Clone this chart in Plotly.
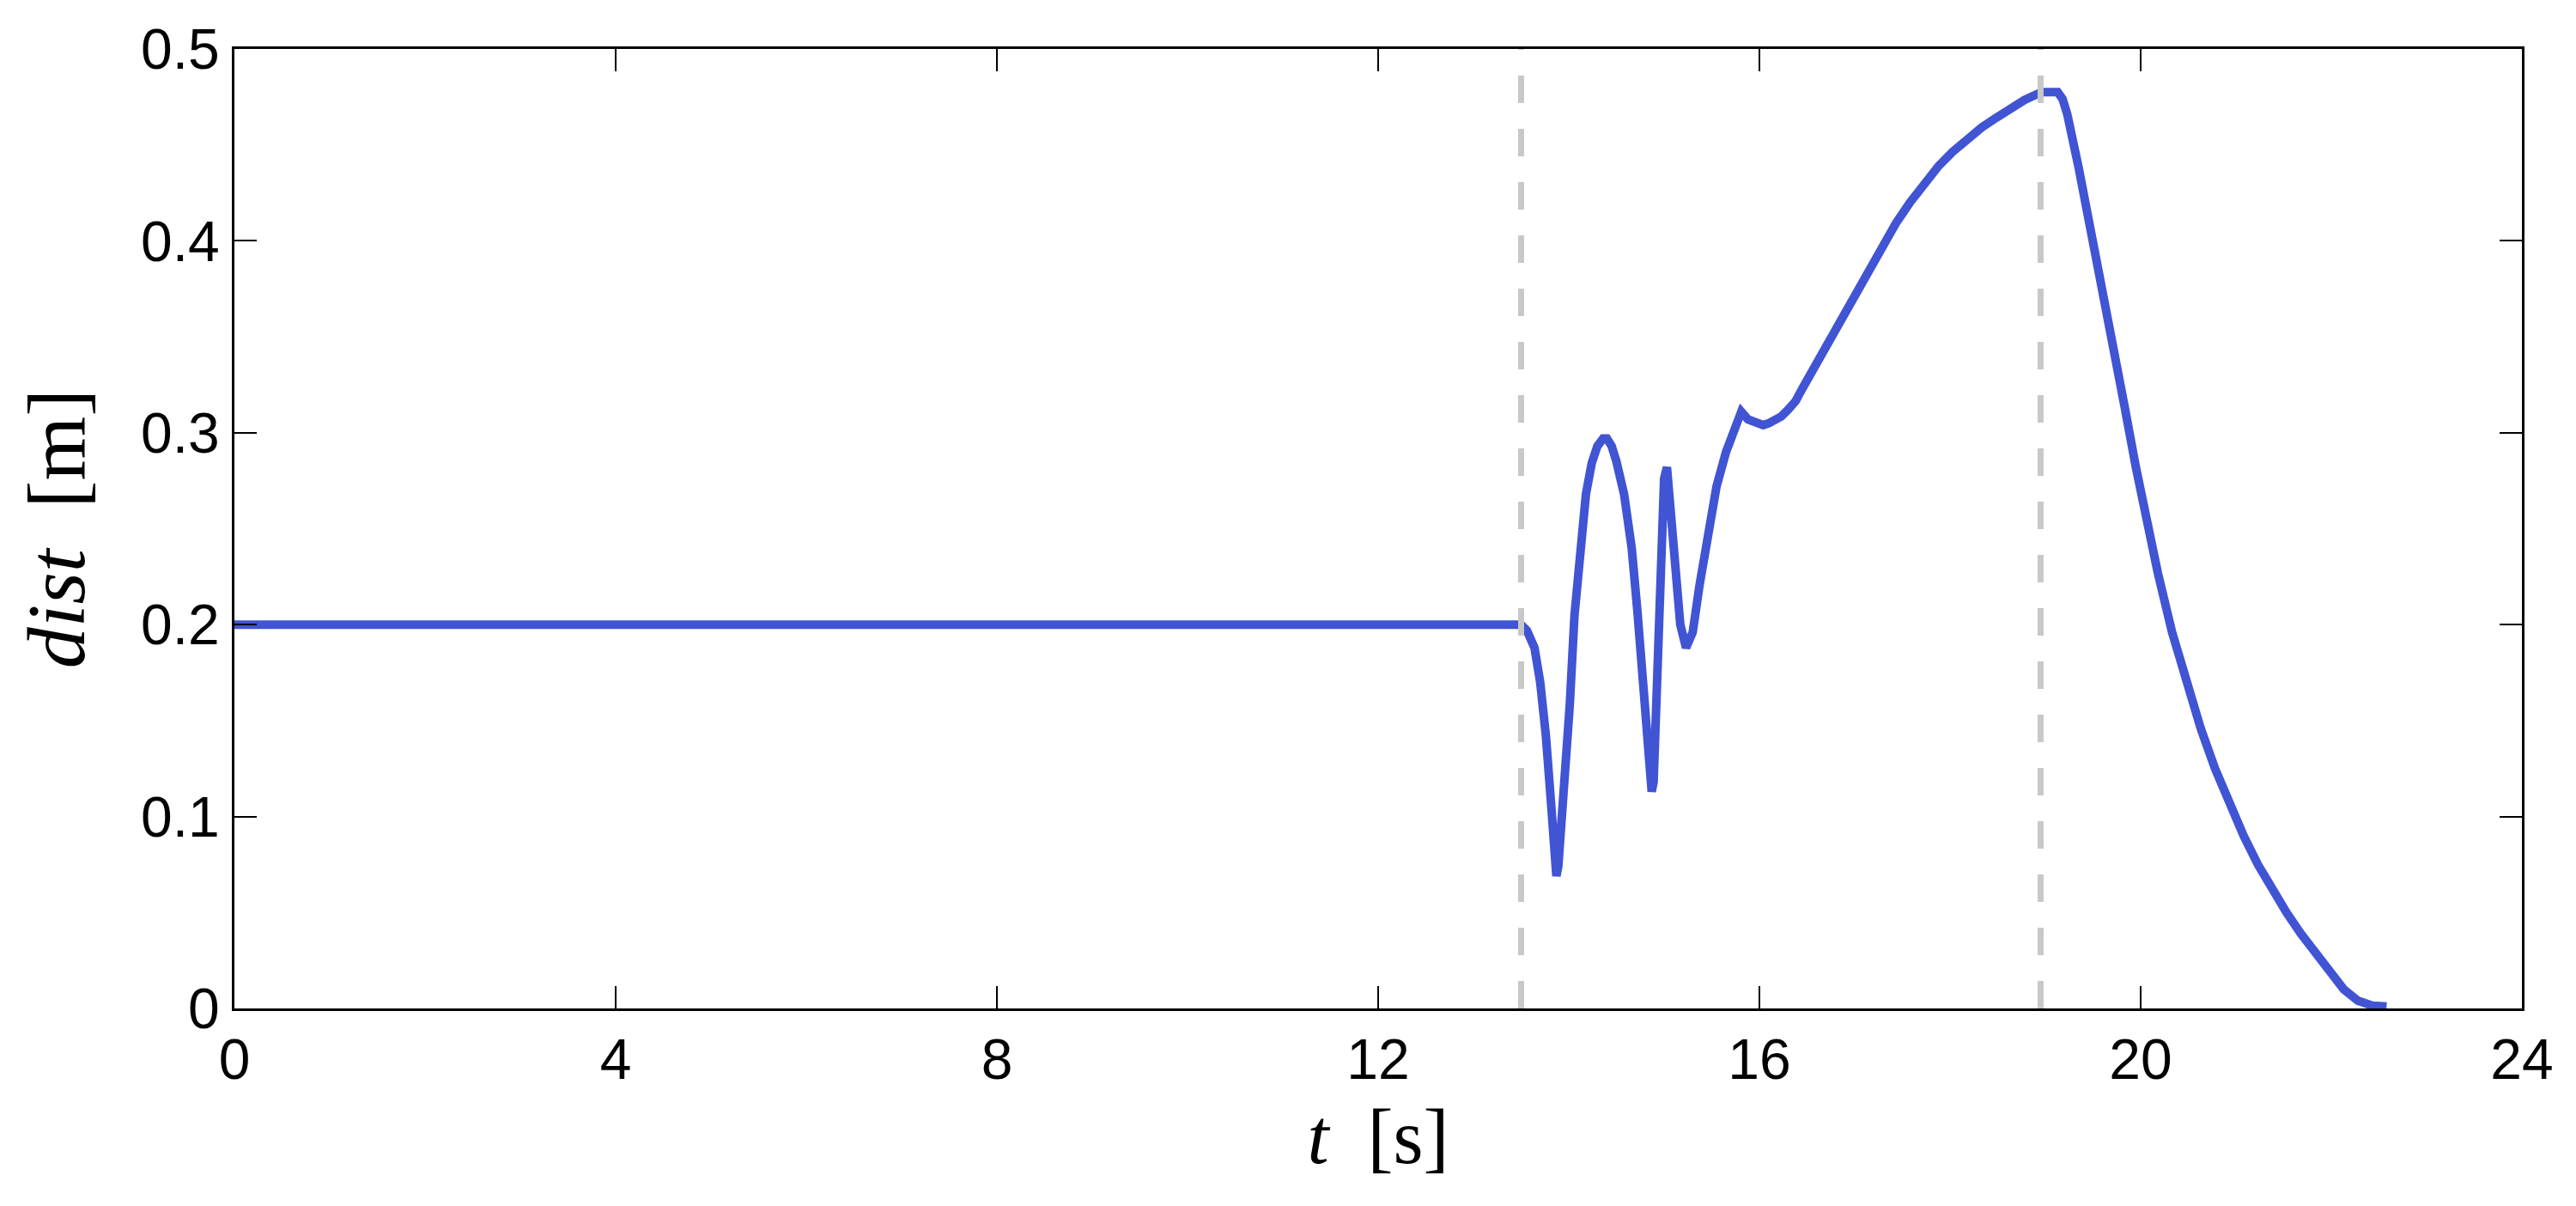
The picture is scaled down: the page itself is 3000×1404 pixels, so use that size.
import plotly.graph_objects as go

# ── Dados ───────────────────────────────────────────────────
t_s = [
    0.0, 13.50, 13.56, 13.64, 13.70, 13.76, 13.82, 13.85, 13.87, 13.89,
    13.93, 13.97, 14.01, 14.06, 14.12, 14.18, 14.24, 14.30, 14.36, 14.40,
    14.45, 14.50, 14.58, 14.66, 14.72, 14.78, 14.82, 14.85, 14.87, 14.89,
    14.91, 14.94, 14.97, 15.00, 15.03, 15.06, 15.11, 15.17, 15.23, 15.30,
    15.37, 15.46, 15.55, 15.65, 15.74, 15.81, 15.88, 15.96, 16.04, 16.10,
    16.16, 16.23, 16.30, 16.38, 16.45, 16.53, 16.68, 16.83, 16.98, 17.13,
    17.28, 17.43, 17.58, 17.73, 17.88, 18.03, 18.18, 18.33, 18.48, 18.63,
    18.78, 18.96, 19.13, 19.18, 19.23, 19.35, 19.47, 19.59, 19.71, 19.83,
    19.95, 20.07, 20.18, 20.33, 20.48, 20.63, 20.78, 20.93, 21.08, 21.23,
    21.38, 21.53, 21.68, 21.83, 21.98, 22.13, 22.28, 22.43, 22.58,
]
dist_m = [
    0.200, 0.200, 0.197, 0.188, 0.170, 0.142, 0.103, 0.083, 0.069, 0.074,
    0.098, 0.128, 0.158, 0.205, 0.240, 0.268, 0.284, 0.293, 0.297, 0.297,
    0.293, 0.285, 0.268, 0.240, 0.207, 0.172, 0.145, 0.125, 0.113, 0.118,
    0.150, 0.205, 0.250, 0.276, 0.282, 0.262, 0.226, 0.200, 0.188, 0.196,
    0.220, 0.248, 0.272, 0.290, 0.303, 0.311, 0.307, 0.305, 0.304, 0.305,
    0.3065, 0.3085, 0.312, 0.3165, 0.323, 0.330, 0.343, 0.356, 0.370, 0.383,
    0.396, 0.409, 0.420, 0.430, 0.439, 0.4465, 0.453, 0.459, 0.464, 0.469,
    0.4734, 0.4775, 0.4775, 0.474, 0.466, 0.438, 0.408, 0.377, 0.346, 0.314,
    0.282, 0.252, 0.227, 0.196, 0.169, 0.146, 0.125, 0.106, 0.090, 0.075,
    0.062, 0.050, 0.039, 0.029, 0.019, 0.010, 0.004, 0.0015, 0.001,
]

# instantes marcados com linhas tracejadas
t_eventos = [13.5, 18.95]

x_ticks = [0, 4, 8, 12, 16, 20, 24]
y_ticks = [0, 0.1, 0.2, 0.3, 0.4, 0.5]
y_ticklabels = ["0", "0.1", "0.2", "0.3", "0.4", "0.5"]

_AZUL = "#4054D4"
_CINZA = "#C8C8C8"

fig = go.Figure()

fig.add_trace(go.Scatter(
    x=t_s, y=dist_m, mode="lines",
    line=dict(color=_AZUL, width=10),
    showlegend=False, hoverinfo="skip",
))

# linhas tracejadas por cima da curva
for te in t_eventos:
    fig.add_trace(go.Scatter(
        x=[te, te], y=[y_ticks[0], y_ticks[-1]], mode="lines",
        line=dict(color=_CINZA, width=7, dash="32px,30px"),
        showlegend=False, hoverinfo="skip",
    ))

eixo = dict(
    showline=True, linecolor="black", linewidth=3, mirror="ticks",
    ticks="inside", ticklen=26, tickwidth=2, tickcolor="black",
    showgrid=False, zeroline=False,
    tickfont=dict(family="Liberation Sans, Arial, sans-serif", size=66, color="black"),
)

fig.update_layout(
    width=3000, height=1404,
    paper_bgcolor="white", plot_bgcolor="white",
    margin=dict(l=265, r=71, t=38, b=238),
    showlegend=False,
    xaxis=dict(
        eixo, range=[0, 24], tickvals=x_ticks,
        ticklabelstandoff=0,
        title=dict(text="<i>t</i>  [s]", standoff=22,
                   font=dict(family="Liberation Serif, serif", size=90, color="black")),
    ),
    yaxis=dict(
        eixo, range=[0, 0.5], tickvals=y_ticks, ticktext=y_ticklabels,
        ticklabelstandoff=1,
        title=dict(text="<i>dist</i>  [m]", standoff=34,
                   font=dict(family="Liberation Serif, serif", size=96, color="black")),
    ),
)

fig.write_html("out.html")
